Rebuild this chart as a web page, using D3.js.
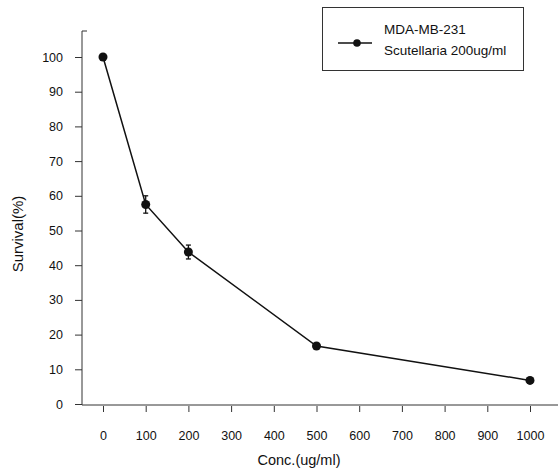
<!DOCTYPE html>
<html>
<head>
<meta charset="utf-8">
<script src="https://cdn.jsdelivr.net/npm/d3@7"></script>
<style>
  body { margin: 0; background: #fff; }
  svg { display: block; font-family: "Liberation Sans", Arial, sans-serif; }
</style>
</head>
<body>
<svg id="vis" width="558" height="473"></svg>
<script>
// data
const concs = [0, 100, 200, 500, 1000];
const survival = [100, 57.5, 43.8, 16.7, 6.8];
const errors = [0, 2.5, 2.0, 0, 0];
const xTicks = [0, 100, 200, 300, 400, 500, 600, 700, 800, 900, 1000];
const yTicks = [0, 10, 20, 30, 40, 50, 60, 70, 80, 90, 100];
const legendLines = ["MDA-MB-231", "Scutellaria 200ug/ml"];

const svg = d3.select("svg#vis");
const ink = "#111";

let x = d3.scaleLinear().domain([0, 1000]).range([103, 530]);
let y = d3.scaleLinear().domain([0, 100]).range([404, 57]);

// axis lines
svg.append("line")
  .attr("x1", 82).attr("x2", 82).attr("y1", 31).attr("y2", 405)
  .attr("stroke", "#333").attr("stroke-width", 1);
svg.append("line")
  .attr("x1", 82).attr("x2", 87).attr("y1", 31).attr("y2", 31)
  .attr("stroke", "#333").attr("stroke-width", 1);
svg.append("line")
  .attr("x1", 82).attr("x2", 558).attr("y1", 405).attr("y2", 405)
  .attr("stroke", "#333").attr("stroke-width", 1);

let yAxis = d3.axisLeft(y).tickValues(yTicks).tickFormat(d3.format("d"))
  .tickSize(7).tickPadding(12);
let yGroup = svg.append("g").attr("transform", "translate(82,0)").call(yAxis);
yGroup.select(".domain").remove();

let xAxis = d3.axisBottom(x).tickValues(xTicks).tickFormat(d3.format("d"))
  .tickSize(6).tickPadding(19.5);
let xGroup = svg.append("g").attr("transform", "translate(0,406)").call(xAxis);
xGroup.select(".domain").remove();

svg.selectAll(".tick line").attr("stroke", "#333");
svg.selectAll(".tick text")
  .attr("fill", ink)
  .style("font-size", "12.5px")
  .style("font-family", "'Liberation Sans', Arial, sans-serif");

// axis titles
svg.append("text")
  .attr("x", 299).attr("y", 465)
  .attr("text-anchor", "middle")
  .attr("fill", ink)
  .style("font-size", "14.5px")
  .text("Conc.(ug/ml)");

svg.append("text")
  .attr("transform", "translate(23,234) rotate(-90)")
  .attr("text-anchor", "middle")
  .attr("fill", ink)
  .style("font-size", "15px")
  .text("Survival(%)");

// series
const points = concs.map((c, i) => ({ c: c, s: survival[i], e: errors[i] }));

let line = d3.line().x(d => x(d.c)).y(d => y(d.s));
svg.append("path")
  .datum(points)
  .attr("d", line)
  .attr("fill", "none")
  .attr("stroke", ink)
  .attr("stroke-width", 1.5);

const withErr = points.filter(d => d.e > 0);
let eb = svg.append("g").attr("stroke", ink).attr("stroke-width", 1.3);
eb.selectAll("line.bar")
  .data(withErr).enter().append("line")
  .attr("x1", d => x(d.c)).attr("x2", d => x(d.c))
  .attr("y1", d => y(d.s - d.e)).attr("y2", d => y(d.s + d.e));
eb.selectAll("line.top")
  .data(withErr).enter().append("line")
  .attr("x1", d => x(d.c) - 2.5).attr("x2", d => x(d.c) + 2.5)
  .attr("y1", d => y(d.s + d.e)).attr("y2", d => y(d.s + d.e));
eb.selectAll("line.bot")
  .data(withErr).enter().append("line")
  .attr("x1", d => x(d.c) - 2.5).attr("x2", d => x(d.c) + 2.5)
  .attr("y1", d => y(d.s - d.e)).attr("y2", d => y(d.s - d.e));

svg.selectAll("circle.pt")
  .data(points).enter().append("circle")
  .attr("class", "pt")
  .attr("cx", d => x(d.c))
  .attr("cy", d => y(d.s))
  .attr("r", 4.5)
  .attr("fill", ink);

// legend
let legend = svg.append("g");
legend.append("rect")
  .attr("x", 322.5).attr("y", 7.5).attr("width", 201).attr("height", 63)
  .attr("fill", "#fff").attr("stroke", "#333").attr("stroke-width", 1);
legend.append("line")
  .attr("x1", 338).attr("x2", 372).attr("y1", 43).attr("y2", 43)
  .attr("stroke", ink).attr("stroke-width", 1.3);
legend.append("circle")
  .attr("cx", 357).attr("cy", 43).attr("r", 3.8).attr("fill", ink);
legend.selectAll("text")
  .data(legendLines).enter().append("text")
  .attr("x", 384)
  .attr("y", (d, i) => 34 + i * 21)
  .attr("fill", ink)
  .style("font-size", "13.5px")
  .text(d => d);
</script>
</body>
</html>
